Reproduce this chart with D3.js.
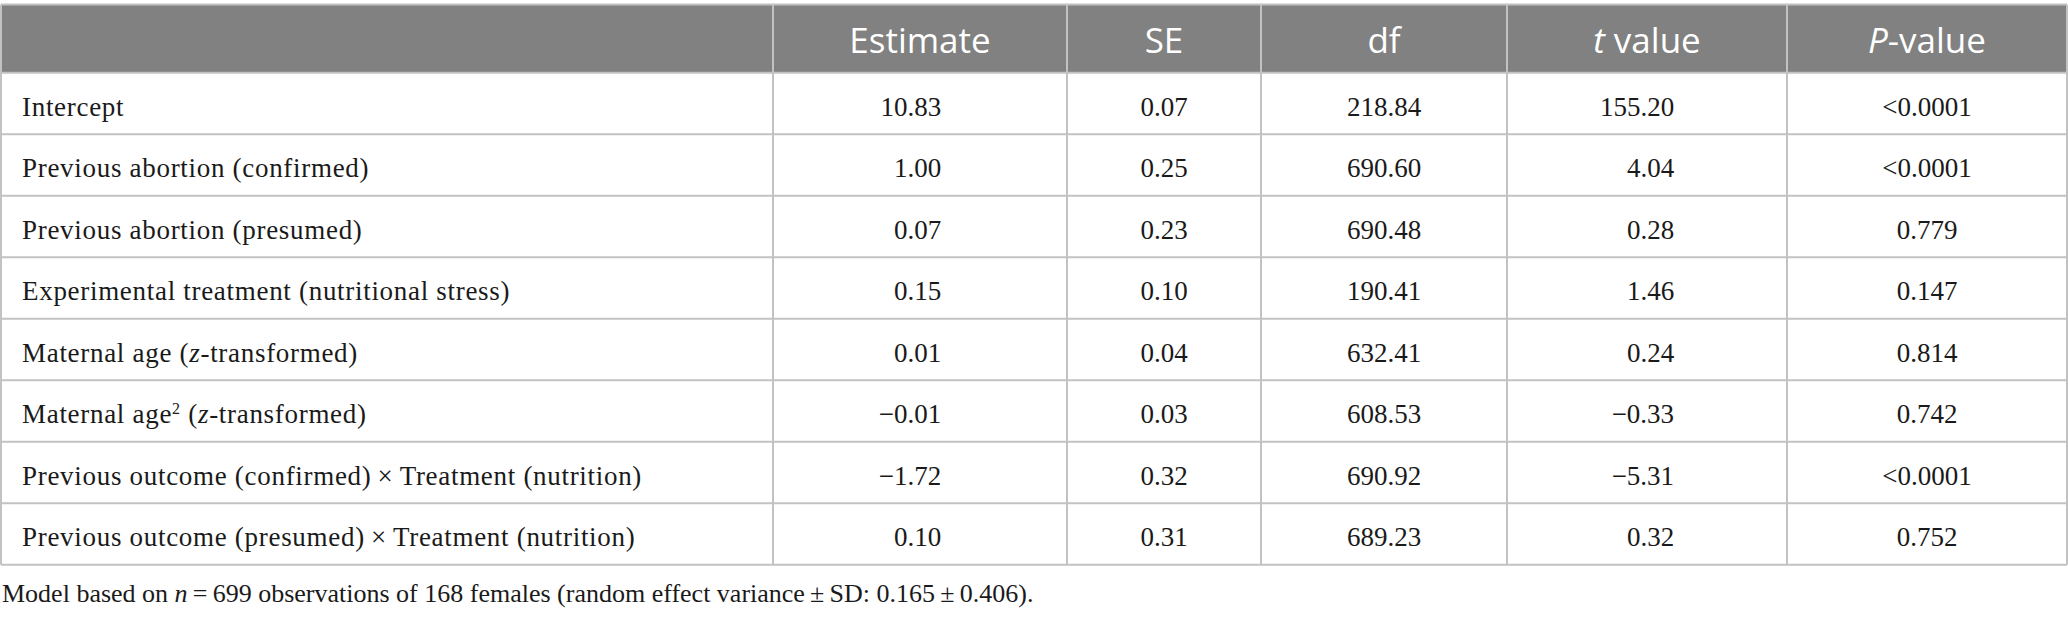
<!DOCTYPE html>
<html>
<head>
<meta charset="utf-8">
<script src="https://cdn.jsdelivr.net/npm/d3@7"></script>
<style>
  body { margin: 0; background: #fff; }
  svg { display: block; }
</style>
</head>
<body>
<svg id="chart" width="2068" height="617"></svg>
<script>
// table content
let headers = ["", "Estimate", "SE", "df", "t value", "P-value"];
let rowLabels = [
  "Intercept",
  "Previous abortion (confirmed)",
  "Previous abortion (presumed)",
  "Experimental treatment (nutritional stress)",
  "Maternal age (z-transformed)",
  "Maternal age2 (z-transformed)",
  "Previous outcome (confirmed) × Treatment (nutrition)",
  "Previous outcome (presumed) × Treatment (nutrition)"
];
let estimate = [10.83, 1.00, 0.07, 0.15, 0.01, -0.01, -1.72, 0.10];
let se = [0.07, 0.25, 0.23, 0.10, 0.04, 0.03, 0.32, 0.31];
let df = [218.84, 690.60, 690.48, 190.41, 632.41, 608.53, 690.92, 689.23];
let tValue = [155.20, 4.04, 0.28, 1.46, 0.24, -0.33, -5.31, 0.32];
let pValue = ["<0.0001", "<0.0001", "0.779", "0.147", "0.814", "0.742", "<0.0001", "0.752"];
let footnote = "Model based on n = 699 observations of 168 females (random effect variance ± SD: 0.165 ± 0.406).";

// layout
let colEdges = [1, 773, 1067, 1261, 1507, 1787, 2067];
let headTop = 4.5, headBottom = 72.7, tableBottom = 564.7;
let lineColor = "#c2c2c2";
let serif = "'Liberation Serif', 'Times New Roman', serif";
let sans = "'Open Sans', 'Noto Sans', sans-serif";

let svg = d3.select("#chart");
let f2 = d3.format(".2f");

let y = d3.scaleBand()
  .domain(d3.range(rowLabels.length))
  .range([headBottom, tableBottom]);

let x = d3.scaleOrdinal()
  .domain(d3.range(headers.length))
  .range(colEdges.slice(0, -1));
let colWidth = function (i) { return colEdges[i + 1] - colEdges[i]; };
let colMid = function (i) { return x(i) + colWidth(i) / 2; };

// header band
svg.append("rect")
  .attr("x", colEdges[0])
  .attr("y", headTop)
  .attr("width", colEdges[colEdges.length - 1] - colEdges[0])
  .attr("height", headBottom - headTop)
  .attr("fill", "#808180");

let head = svg.selectAll(".head")
  .data(headers)
  .enter()
  .append("text")
  .attr("class", "head")
  .attr("x", function (d, i) { return colMid(i); })
  .attr("y", headTop + 48.5)
  .attr("text-anchor", "middle")
  .attr("fill", "#fff")
  .style("font-family", sans)
  .style("font-size", "35px");

head.each(function (d) {
  let t = d3.select(this);
  if (d == "t value") {
    t.append("tspan").style("font-style", "italic").text("t");
    t.append("tspan").text(" value");
  } else if (d == "P-value") {
    t.append("tspan").style("font-style", "italic").text("P");
    t.append("tspan").text("-value");
  } else {
    t.text(d);
  }
});

// grid lines
svg.selectAll(".hline")
  .data([headTop, headBottom].concat(d3.range(rowLabels.length).map(function (i) { return y(i) + y.bandwidth(); })))
  .enter()
  .append("line")
  .attr("class", "hline")
  .attr("x1", colEdges[0])
  .attr("x2", colEdges[colEdges.length - 1])
  .attr("y1", function (d) { return d; })
  .attr("y2", function (d) { return d; })
  .attr("stroke", lineColor)
  .attr("stroke-width", 2);

svg.selectAll(".vline")
  .data(colEdges)
  .enter()
  .append("line")
  .attr("class", "vline")
  .attr("x1", function (d) { return d; })
  .attr("x2", function (d) { return d; })
  .attr("y1", headTop)
  .attr("y2", tableBottom)
  .attr("stroke", lineColor)
  .attr("stroke-width", 2);

// row labels
let labels = svg.selectAll(".label")
  .data(rowLabels)
  .enter()
  .append("text")
  .attr("class", "label")
  .attr("x", x(0) + 21)
  .attr("y", function (d, i) { return y(i) + 43; })
  .attr("fill", "#1a1a1a")
  .style("font-family", serif)
  .style("font-size", "27px")
  .style("letter-spacing", "0.7px");

labels.each(function (d) {
  let t = d3.select(this);
  if (d.indexOf("z-transformed") >= 0) {
    let sq = d.startsWith("Maternal age2");
    t.append("tspan").text(sq ? "Maternal age" : "Maternal age ");
    if (sq) {
      t.append("tspan").attr("dy", -9).style("font-size", "16px").text("2");
      t.append("tspan").attr("dy", 9).text(" (");
    } else {
      t.append("tspan").text("(");
    }
    t.append("tspan").style("font-style", "italic").text("z");
    t.append("tspan").text("-transformed)");
  } else {
    t.text(d.replace(" × ", "\u2009×\u2009"));
  }
});

// numeric columns: [column index, strings, decimal-aligned]
let cols = [
  [1, estimate.map(f2), true],
  [2, se.map(f2), false],
  [3, df.map(f2), false],
  [4, tValue.map(f2), true],
  [5, pValue, false]
];

cols.forEach(function (c) {
  let ci = c[0], vals = c[1], aligned = c[2];
  let g = svg.append("g");
  let cells = g.selectAll("text")
    .data(vals)
    .enter()
    .append("text")
    .attr("y", function (d, i) { return y(i) + 43; })
    .attr("fill", "#1a1a1a")
    .style("font-family", serif)
    .style("font-size", "27px")
    .text(function (d) { return d; });
  if (aligned) {
    let maxW = d3.max(cells.nodes(), function (n) { return n.getComputedTextLength(); });
    cells.attr("text-anchor", "end").attr("x", colMid(ci) + maxW / 2 - 10);
  } else {
    cells.attr("text-anchor", "middle").attr("x", colMid(ci));
  }
});

// footnote
let fn = svg.append("text")
  .attr("x", 2)
  .attr("y", 602)
  .attr("fill", "#1a1a1a")
  .style("font-family", serif)
  .style("font-size", "26px");
let parts = footnote.split("n = ");
fn.append("tspan").text(parts[0]);
fn.append("tspan").style("font-style", "italic").text("n");
fn.append("tspan").text(("\u2009=\u2009" + parts[1]).replace(/ ± /g, "\u2009±\u2009"));
</script>
</body>
</html>
